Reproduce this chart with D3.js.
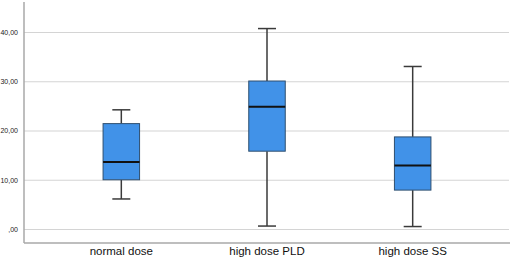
<!DOCTYPE html>
<html><head><meta charset="utf-8">
<script src="https://cdn.jsdelivr.net/npm/d3@7"></script>
<style>body{margin:0;background:#fff}svg{display:block}</style>
</head><body>
<script>
const categories = ["normal dose", "high dose PLD", "high dose SS"];
const minVals    = [6.2, 0.7, 0.6];
const q1Vals     = [10.1, 15.9, 8.0];
const medianVals = [13.7, 24.9, 13.0];
const q3Vals     = [21.5, 30.15, 18.8];
const maxVals    = [24.3, 40.8, 33.1];
const yTicks     = [0, 10, 20, 30, 40];

(function () {
const W = 512, H = 261;
const mLeft = 24, mRight = 510, mTop = 2, mBottom = 243;
const svg = d3.select("body").append("svg").attr("width", W).attr("height", H);

const y = d3.scaleLinear().domain([0, 40]).range([229.5, 32.5]);
const x = d3.scalePoint().domain(categories).range([mLeft, mRight]).padding(0.668);
const boxW = 36.5, capW = 18;

// gridlines
svg.append("g").selectAll("line").data(yTicks).join("line")
  .attr("x1", mLeft).attr("x2", mRight - 1)
  .attr("y1", d => y(d)).attr("y2", d => y(d))
  .attr("stroke", "#d4d4d4").attr("stroke-width", 1.2);

// y axis tick labels
const fmt = d => d === 0 ? ",00" : d3.format(".2f")(d).replace(".", ",");
svg.append("g").selectAll("text").data(yTicks).join("text")
  .attr("x", 18).attr("y", d => y(d)).attr("dy", "0.35em")
  .attr("text-anchor", "end")
  .attr("font-family", "Liberation Sans, Arial, sans-serif")
  .attr("font-size", 7).attr("fill", "#222")
  .text(fmt);

// axis lines
svg.append("line").attr("x1", mLeft).attr("x2", mLeft).attr("y1", mTop).attr("y2", mBottom)
  .attr("stroke", "#a8a8a8").attr("stroke-width", 1.5);
svg.append("line").attr("x1", mLeft).attr("x2", mRight).attr("y1", mBottom).attr("y2", mBottom)
  .attr("stroke", "#a8a8a8").attr("stroke-width", 1.5);

// boxes
const data = categories.map((c, i) => ({c, min: minVals[i], q1: q1Vals[i], med: medianVals[i], q3: q3Vals[i], max: maxVals[i]}));
const g = svg.append("g").selectAll("g").data(data).join("g");
const stroke = "#3a3a3a";
g.append("line").attr("x1", d => x(d.c)).attr("x2", d => x(d.c))
  .attr("y1", d => y(d.max)).attr("y2", d => y(d.q3)).attr("stroke", stroke).attr("stroke-width", 1.5);
g.append("line").attr("x1", d => x(d.c)).attr("x2", d => x(d.c))
  .attr("y1", d => y(d.q1)).attr("y2", d => y(d.min)).attr("stroke", stroke).attr("stroke-width", 1.5);
g.append("line").attr("x1", d => x(d.c) - capW / 2).attr("x2", d => x(d.c) + capW / 2)
  .attr("y1", d => y(d.max)).attr("y2", d => y(d.max)).attr("stroke", stroke).attr("stroke-width", 1.5);
g.append("line").attr("x1", d => x(d.c) - capW / 2).attr("x2", d => x(d.c) + capW / 2)
  .attr("y1", d => y(d.min)).attr("y2", d => y(d.min)).attr("stroke", stroke).attr("stroke-width", 1.5);
g.append("rect").attr("x", d => x(d.c) - boxW / 2).attr("width", boxW)
  .attr("y", d => y(d.q3)).attr("height", d => y(d.q1) - y(d.q3))
  .attr("fill", "#4192e8").attr("stroke", "#2f4f6f").attr("stroke-width", 1);
g.append("line").attr("x1", d => x(d.c) - boxW / 2).attr("x2", d => x(d.c) + boxW / 2)
  .attr("y1", d => y(d.med)).attr("y2", d => y(d.med)).attr("stroke", "#111").attr("stroke-width", 2);

// category labels
svg.append("g").selectAll("text").data(categories).join("text")
  .attr("x", d => x(d)).attr("y", 255)
  .attr("text-anchor", "middle")
  .attr("font-family", "Liberation Sans, Arial, sans-serif")
  .attr("font-size", 11.5).attr("fill", "#111")
  .text(d => d);
})();
</script>
</body></html>
